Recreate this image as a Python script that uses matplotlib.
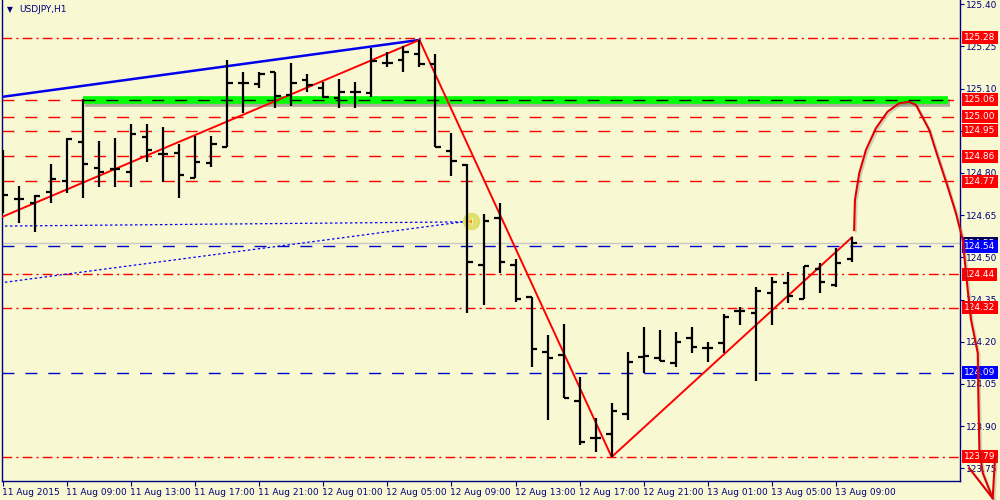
import matplotlib
matplotlib.use("Agg")
import matplotlib.pyplot as plt
import matplotlib.patheffects as pe
import matplotlib.transforms as mtransforms

# --------------------------
# USDJPY H1 bars, 11 Aug 2015 05:00 .. 13 Aug 10:00
# --------------------------
opens = [124.811, 124.708, 124.694, 124.733, 124.772, 124.911, 124.819, 124.814, 124.804, 124.929,
         124.867, 124.870, 124.782, 124.834, 124.893, 125.119, 125.116, 125.160, 125.077, 125.131,
         125.101, 125.065, 125.087, 125.085, 125.190, 125.202, 125.223, 125.187, 124.879, 124.828,
         124.473, 124.641, 124.473, 124.360, 124.162, 124.153, 123.990, 123.856, 123.872, 123.943,
         124.144, 124.141, 124.125, 124.212, 124.179, 124.194, 124.310, 124.303, 124.374, 124.410,
         124.352, 124.457, 124.402, 124.493]
highs = [124.882, 124.754, 124.721, 124.832, 124.923, 125.062, 124.914, 124.924, 124.974, 124.974,
         124.962, 124.903, 124.932, 124.931, 125.202, 125.160, 125.160, 125.160, 125.190, 125.151,
         125.125, 125.133, 125.122, 125.243, 125.231, 125.251, 125.273, 125.223, 124.941, 124.831,
         124.654, 124.692, 124.493, 124.360, 124.224, 124.262, 124.073, 123.930, 123.981, 124.162,
         124.251, 124.242, 124.233, 124.251, 124.200, 124.298, 124.322, 124.393, 124.431, 124.449,
         124.470, 124.481, 124.532, 124.571]
lows = [124.658, 124.622, 124.591, 124.692, 124.730, 124.710, 124.751, 124.751, 124.751, 124.840,
        124.769, 124.710, 124.781, 124.822, 124.891, 125.012, 125.101, 125.030, 125.038, 125.089,
        125.065, 125.030, 125.030, 125.071, 125.176, 125.160, 125.176, 124.891, 124.790, 124.301,
        124.330, 124.443, 124.340, 124.111, 123.922, 123.999, 123.833, 123.809, 123.790, 123.922,
        124.088, 124.132, 124.111, 124.161, 124.129, 124.161, 124.259, 124.061, 124.259, 124.339,
        124.351, 124.372, 124.396, 124.484]
closes = [124.723, 124.706, 124.719, 124.780, 124.922, 124.833, 124.804, 124.815, 124.940, 124.882,
          124.867, 124.794, 124.840, 124.902, 125.121, 125.119, 125.153, 125.074, 125.121, 125.113,
          125.071, 125.089, 125.087, 125.198, 125.190, 125.231, 125.186, 124.893, 124.844, 124.484,
          124.630, 124.484, 124.352, 124.174, 124.143, 124.001, 123.842, 123.859, 123.954, 124.129,
          124.150, 124.132, 124.200, 124.182, 124.179, 124.289, 124.310, 124.381, 124.411, 124.362,
          124.470, 124.413, 124.479, 124.552]

time_labels = ["11 Aug 2015", "11 Aug 09:00", "11 Aug 13:00", "11 Aug 17:00", "11 Aug 21:00",
               "12 Aug 01:00", "12 Aug 05:00", "12 Aug 09:00", "12 Aug 13:00", "12 Aug 17:00",
               "12 Aug 21:00", "13 Aug 01:00", "13 Aug 05:00", "13 Aug 09:00"]
price_ticks = [125.40, 125.25, 125.10, 124.95, 124.80, 124.65, 124.50, 124.35, 124.20, 124.05, 123.90, 123.75]

# horizontal levels
red_dash_levels = [125.06, 125.00, 124.95, 124.86, 124.77]
red_dashdot_levels = [125.28, 124.44, 124.32, 123.79]
blue_dash_levels = [124.54, 124.09]
bid_price = 124.55

# trend lines (bar index, price)
blue_trend_x = [0, 26]
blue_trend_y = [125.071, 125.273]
red_zigzag_x = [-0.5, 26, 38, 53]
red_zigzag_y = [124.633, 125.273, 123.790, 124.571]
green_x = [5, 59]
green_y = [125.06, 125.06]
dot_a_x = [-0.19, 28.7]
dot_a_y = [124.611, 124.626]
dot_b_x = [-0.19, 28.7]
dot_b_y = [124.409, 124.626]
marker_x, marker_y = 29.2, 124.629

# hand drawn forecast curve
curve_x = [53.14, 53.19, 53.46, 53.88, 54.5, 55.23, 55.96, 56.58, 57.0, 57.83, 58.36, 58.98,
           59.5, 59.92, 60.23, 60.44, 60.86, 60.89, 60.96, 61.17, 61.79]
curve_y = [124.597, 124.704, 124.799, 124.882, 124.959, 125.018, 125.048, 125.053, 125.042,
           124.953, 124.858, 124.751, 124.656, 124.562, 124.384, 124.277, 124.159, 124.028,
           123.815, 123.733, 123.643]
arrow_x = [60.33, 61.79, 61.94]
arrow_y = [123.750, 123.643, 123.791]

BG = "#F8F8D2"
NAVY = "#000080"
FONT = 6.5

fig = plt.figure(figsize=(10, 5), dpi=100, facecolor=BG)
ax = fig.add_axes([2 / 1000, 19 / 500, 958 / 1000, 481 / 500], facecolor=BG)
ax.set_xlim(-0.0625, 59.75)
ax.set_ylim(123.7046, 125.415)

# levels
for lv in red_dash_levels:
    ax.axhline(lv, color="red", lw=1, ls=(0, (8.6, 7.9)), zorder=1)
for lv in red_dashdot_levels:
    ax.axhline(lv, color="red", lw=1, ls=(0, (7, 3, 1.5, 3)), zorder=1)
for lv in blue_dash_levels:
    ax.axhline(lv, color="#0000CC", lw=1, ls=(0, (8.6, 7.9)), zorder=1)
ax.axhline(bid_price, color="#C8C8C8", lw=1, zorder=1)

# green band with shadow
shadow = [pe.SimpleLineShadow(offset=(1.5, -2.5), shadow_color="#505050", alpha=0.45), pe.Normal()]
ax.plot(green_x, green_y, color="#00FF00", lw=5.5, solid_capstyle="butt", zorder=2, path_effects=shadow)
ax.plot(green_x, green_y, color="black", lw=1, ls=(0, (8.6, 7.9)), zorder=2.1)

# dotted lines + marker
ax.plot(dot_a_x, dot_a_y, color="blue", lw=0.9, ls=(0, (2, 2)), zorder=2)
ax.plot(dot_b_x, dot_b_y, color="blue", lw=0.9, ls=(0, (2, 2)), zorder=2)
ax.plot(marker_x, marker_y, "o", ms=11.5, color="#DCDC5A", alpha=0.85, zorder=2.2)
ax.plot(marker_x - 0.1, marker_y, "<", ms=4, color="#FF9900", mec="white", mew=0.5, zorder=2.3)

# trend lines
ax.plot(blue_trend_x, blue_trend_y, color="#0000EE", lw=1.8, zorder=3)
ax.plot(red_zigzag_x, red_zigzag_y, color="red", lw=1.4, zorder=3)

# OHLC bars
idx = list(range(len(opens)))
tick = 0.33
ax.vlines(idx, lows, highs, color="black", lw=1.6, zorder=4)
ax.hlines(opens, [i - tick for i in idx], idx, color="black", lw=1.6, zorder=4)
ax.hlines(closes, idx, [i + tick for i in idx], color="black", lw=1.6, zorder=4)

# forecast curve, drawn above the price labels
cshadow = [pe.SimpleLineShadow(offset=(1.2, -1.2), shadow_color="#606060", alpha=0.25), pe.Normal()]
ax.plot(curve_x, curve_y, color="#E00000", lw=1.5, clip_on=False, zorder=7, path_effects=cshadow)
ax.plot(arrow_x, arrow_y, color="#E00000", lw=1.5, clip_on=False, zorder=7, path_effects=cshadow)

# axes styling
ax.spines["top"].set_visible(False)
for s in ["left", "right", "bottom"]:
    ax.spines[s].set_color(NAVY)
    ax.spines[s].set_linewidth(1)

ax.yaxis.tick_right()
ax.set_yticks(price_ticks)
ax.set_yticklabels(["%.2f" % p for p in price_ticks])
ax.tick_params(axis="y", colors=NAVY, labelcolor=NAVY, labelsize=FONT, length=3, width=0.8, pad=1.5)

ax.set_xticks(range(0, 4 * len(time_labels), 4))
ax.set_xticklabels(time_labels, ha="left")
ax.tick_params(axis="x", colors=NAVY, labelcolor=NAVY, labelsize=FONT, length=3.5, width=0.8, pad=1.5)
offs = mtransforms.ScaledTranslation(-1 / 100, 0, fig.dpi_scale_trans)
for lbl in ax.get_xticklabels():
    lbl.set_transform(lbl.get_transform() + offs)

# right-side price labels
tr = mtransforms.blended_transform_factory(ax.transAxes, ax.transData)
box_labels = [(bid_price, "#000060")]
box_labels += [(lv, "red") for lv in red_dash_levels + red_dashdot_levels]
box_labels += [(lv, "#0000FF") for lv in blue_dash_levels]
for lv, col in box_labels:
    ax.text(1.0045, lv, "%.2f" % lv, transform=tr, color="white", fontsize=FONT, va="center", ha="left",
            clip_on=False, zorder=6,
            bbox=dict(boxstyle="square,pad=0.22", fc=col, ec="none"))

# title
fig.text(7 / 1000, 1 - 10 / 500, "\u25BC", color=NAVY, fontsize=5.5, va="center", ha="left")
fig.text(19 / 1000, 1 - 10 / 500, "USDJPY,H1", color=NAVY, fontsize=FONT, va="center", ha="left")

fig.savefig("out.png", dpi=100, facecolor=BG)
